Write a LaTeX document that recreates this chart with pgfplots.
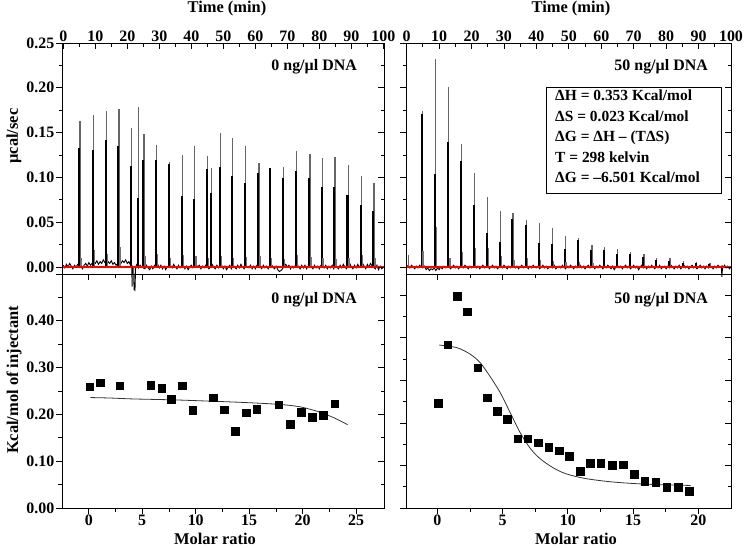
\documentclass[border=0pt]{standalone}
\usepackage{pgfplots}
\pgfplotsset{compat=1.18}
\usepackage{fontspec}
\setmainfont{Liberation Serif}

\pgfplotsset{
  itc/.style={scale only axis, anchor=north west,
    axis line style={line width=0.9pt},
    every tick/.style={line width=0.8pt, black},
    major tick length=6bp, minor tick length=3.5bp,
    tick label style={font=\fontsize{16}{17}\selectfont\bfseries, inner sep=1.5pt},
    /pgf/number format/assume math mode=true},
  topL/.style={itc, width=322bp, height=231bp, xmin=-0.4, xmax=100.2, ymin=-0.0078, ymax=0.25,
    ytick={0,0.05,0.1,0.15,0.2,0.25}, minor y tick num=1},
  topR/.style={itc, width=325bp, height=231bp, xmin=-0.2, xmax=100, ymin=-0.0078, ymax=0.25,
    ytick={0,0.05,0.1,0.15,0.2,0.25}, minor y tick num=1},
  botL/.style={itc, width=322bp, height=234bp, xmin=-2.5, xmax=27.6, ymin=0, ymax=0.5,
    xtick={0,5,10,15,20,25}, minor x tick num=1, ytick={0,0.1,0.2,0.3,0.4,0.5}, minor y tick num=1},
  botR/.style={itc, width=325bp, height=234bp, xmin=-2.4, xmax=22.5, ymin=0, ymax=0.55,
    xtick={0,5,10,15,20}, minor x tick num=1, ytick={0,0.1,0.2,0.3,0.4,0.5}, minor y tick num=1},
  inner/.style={tick align=inside, xtick pos=right, ytick pos=right, yticklabels={}},
}

\begin{document}
\begin{tikzpicture}
\path[use as bounding box] (0,0) rectangle (745bp,-548bp);

% ---------------- top left ----------------
\begin{axis}[topL, at={(62bp,-43bp)}, xtick=\empty, ytick pos=left, tick align=outside,
  yticklabels={0.00,0.05,0.10,0.15,0.20,0.25}, clip=false]
\addplot[black, line width=0.9pt] coordinates {
(0.0,0.002)(0.5,-0.001)(1.0,0.003)(1.5,0.000)(2.0,0.004)(2.5,0.001)(3.0,-0.002)(3.5,0.002)(4.0,0.000)(4.5,0.003)(5.5,0.001)(6.0,-0.002)(6.5,0.002)(7.0,0.004)(7.5,0.001)(8.0,0.005)(8.5,0.002)(9.5,0.006)(10.0,0.004)(10.5,0.007)(11.0,0.003)(11.5,0.006)(12.0,0.004)(12.5,0.008)(13.0,0.005)(13.5,0.003)(14.0,0.006)(14.5,0.004)(15.0,0.007)(15.5,0.003)(16.0,0.005)(16.5,0.002)(17.5,0.006)(18.0,0.004)(18.5,0.007)(19.0,0.005)(19.5,0.008)(20.0,0.004)(20.5,0.006)(21.0,0.002)(21.4,0.000)(21.5,-0.022)(21.6,0.001)(22.0,0.000)(22.1,-0.025)(22.4,-0.026)(22.6,0.000)(23.0,0.003)(23.5,-0.001)(24.0,0.002)(24.5,0.000)(25.5,-0.002)(26.0,0.002)(26.5,-0.001)(27.0,-0.003)(27.5,0.001)(28.0,-0.002)(28.5,0.002)(29.5,0.003)(30.0,-0.001)(30.5,0.002)(31.0,-0.002)(31.5,0.001)(32.0,-0.003)(32.5,0.000)(33.5,0.002)(34.0,-0.001)(34.5,0.003)(35.0,0.000)(35.5,-0.002)(36.0,0.002)(36.5,-0.001)(37.5,0.002)(38.0,-0.002)(38.5,0.001)(39.0,-0.003)(39.5,0.000)(40.0,0.002)(40.5,-0.001)(41.5,0.003)(42.0,0.000)(42.5,0.002)(43.0,-0.002)(43.5,0.001)(44.0,-0.001)(44.5,0.002)(45.5,-0.002)(46.5,0.003)(47.0,0.000)(47.5,-0.002)(48.0,0.002)(48.5,-0.001)(49.5,0.002)(50.0,-0.002)(50.5,0.001)(51.0,-0.003)(51.5,0.000)(52.0,0.002)(52.5,-0.002)(53.0,0.003)(53.5,0.000)(54.0,-0.002)(54.5,0.002)(55.0,-0.001)(55.5,0.003)(56.0,0.000)(56.5,-0.002)(57.0,0.003)(57.5,0.000)(58.0,-0.001)(58.5,0.002)(59.0,-0.002)(59.5,0.001)(60.0,-0.002)(60.5,0.002)(61.0,0.004)(61.5,0.000)(62.0,-0.002)(62.5,0.002)(63.0,-0.001)(63.5,0.001)(64.0,-0.002)(64.5,0.002)(65.0,0.003)(65.5,0.000)(66.0,-0.002)(66.5,0.001)(67.0,-0.003)(67.5,-0.005)(68.0,-0.004)(68.5,-0.002)(69.0,0.001)(69.5,0.003)(70.0,0.000)(70.5,0.002)(71.0,-0.002)(71.5,0.001)(72.0,-0.001)(72.5,0.002)(73.0,0.004)(73.5,0.000)(74.0,-0.002)(74.5,0.002)(75.0,-0.001)(75.5,0.002)(76.0,-0.002)(76.5,0.001)(77.0,0.004)(77.5,0.000)(78.0,-0.002)(78.5,0.002)(79.0,-0.001)(79.5,0.001)(80.0,-0.002)(80.5,0.002)(81.0,0.003)(81.5,-0.001)(82.0,0.002)(82.5,-0.002)(83.0,0.001)(83.5,-0.001)(84.0,0.002)(84.5,-0.002)(85.0,0.003)(85.5,0.000)(86.0,-0.002)(86.5,0.002)(87.0,-0.001)(87.5,0.003)(88.0,0.000)(88.5,-0.002)(89.0,0.002)(89.5,0.004)(90.0,0.000)(90.5,-0.002)(91.0,0.002)(91.5,-0.001)(92.0,0.003)(92.5,0.000)(93.5,0.004)(94.0,0.001)(94.5,-0.002)(95.0,0.003)(95.5,0.000)(96.0,0.004)(96.5,0.001)(97.5,-0.002)(98.0,0.002)(98.5,-0.003)(99.0,0.001)(99.5,-0.002)(100.0,0.000)};
\addplot[ycomb, draw=black!60, line width=1.3pt, no markers] coordinates {
(5.2,0.163)(9.4,0.170)(13.5,0.174)(17.4,0.176)(21.4,0.155)(23.6,0.179)(25.2,0.148)(29.2,0.136)(33.2,0.117)(37.2,0.125)(41.1,0.135)(45.0,0.124)(46.4,0.111)(49.2,0.150)(52.9,0.144)(57.0,0.135)(61.1,0.116)(64.8,0.110)(68.8,0.112)(72.9,0.129)(77.1,0.126)(80.9,0.122)(84.9,0.123)(89.0,0.114)(93.2,0.102)(97.1,0.094)};
\addplot[ycomb, draw=black, line width=2.1pt, no markers] coordinates {
(5.0,0.133)(9.2,0.131)(13.3,0.142)(17.2,0.135)(21.2,0.113)(23.4,0.077)(25.0,0.119)(29.0,0.119)(33.0,0.115)(37.0,0.079)(40.9,0.076)(44.8,0.109)(46.2,0.083)(49.0,0.112)(52.7,0.102)(56.8,0.094)(60.9,0.105)(64.6,0.110)(68.6,0.099)(72.7,0.107)(76.9,0.099)(80.7,0.089)(84.7,0.089)(88.8,0.080)(93.0,0.069)(96.9,0.062)};
\addplot[ycomb, draw=black!55, line width=1.5pt, no markers] coordinates {
(5.5,0.010)(9.7,0.019)(13.8,0.015)(17.7,0.022)(25.5,0.012)(29.5,0.015)(33.5,0.010)(37.5,0.013)(41.4,0.012)(45.3,0.010)(49.5,0.012)(53.2,0.010)(57.3,0.011)(61.4,0.012)(65.1,0.010)(69.1,0.009)(73.2,0.013)(77.4,0.011)(81.2,0.010)(85.2,0.009)(89.3,0.010)(93.5,0.013)(97.4,0.010)};
\addplot[red, line width=1.1pt] coordinates {(-0.4,0) (100.2,0)};
\end{axis}
\begin{axis}[topL, at={(62bp,-43bp)}, inner, xtick={0,10,20,30,40,50,60,70,80,90,100},
  xticklabels={0,10,20,30,40,50,60,70,80,90,100}, minor x tick num=1, xticklabel pos=right]
\end{axis}

% ---------------- top right ----------------
\begin{axis}[topR, at={(406bp,-43bp)}, xtick=\empty, ytick pos=left, tick align=outside,
  yticklabels={}, clip=false]
\addplot[black, line width=0.9pt] coordinates {
(0.0,0.000)(0.5,0.002)(1.0,-0.001)(1.5,0.002)(2.0,0.000)(2.5,-0.002)(3.0,0.001)(3.5,-0.001)(4.0,0.002)(4.5,0.000)(5.0,-0.001)(5.5,0.001)(6.0,-0.003)(6.5,-0.001)(7.0,-0.004)(7.5,-0.002)(8.0,-0.003)(8.5,-0.001)(9.0,-0.004)(9.5,-0.001)(10.0,-0.003)(10.5,0.000)(11.0,-0.002)(11.5,0.001)(12.0,-0.001)(12.5,0.000)(13.0,0.001)(13.5,-0.002)(14.0,0.000)(14.5,0.002)(15.0,-0.001)(15.5,0.001)(16.0,-0.002)(16.5,0.000)(17.0,0.001)(17.5,-0.001)(18.0,0.002)(18.5,0.000)(19.0,-0.002)(19.5,0.001)(20.0,-0.001)(20.5,0.000)(21.0,0.002)(21.5,-0.001)(22.0,0.001)(22.5,-0.002)(23.0,0.000)(23.5,0.002)(24.0,-0.001)(24.5,0.000)(25.0,0.001)(25.5,-0.002)(26.0,0.000)(26.5,0.002)(27.0,-0.001)(27.5,0.001)(28.0,-0.002)(28.5,0.000)(29.0,0.001)(29.5,-0.001)(30.0,0.002)(30.5,0.000)(31.0,-0.002)(31.5,0.001)(32.0,-0.001)(32.5,0.000)(33.0,0.002)(33.5,-0.001)(34.0,0.001)(34.5,-0.002)(35.0,0.000)(35.5,0.002)(36.0,-0.001)(36.5,0.000)(37.0,0.001)(37.5,-0.002)(38.0,0.001)(38.5,-0.001)(39.0,0.002)(39.5,0.000)(40.0,-0.001)(40.5,0.001)(41.0,-0.002)(41.5,0.000)(42.0,0.002)(42.5,-0.001)(43.0,0.001)(43.5,-0.002)(44.0,0.000)(44.5,0.001)(45.0,-0.001)(45.5,0.002)(46.0,-0.002)(46.5,0.000)(47.0,0.001)(47.5,-0.001)(48.0,0.002)(48.5,0.000)(49.0,-0.002)(49.5,0.001)(50.0,-0.001)(50.5,0.002)(51.0,0.000)(51.5,-0.002)(52.0,0.001)(52.5,-0.001)(53.0,0.000)(53.5,0.002)(54.0,-0.001)(54.5,0.001)(55.0,-0.002)(55.5,0.000)(56.0,0.002)(56.5,-0.001)(57.0,0.000)(57.5,0.001)(58.0,-0.002)(58.5,0.001)(59.0,-0.001)(59.5,0.002)(60.0,0.000)(60.5,-0.002)(61.0,0.001)(61.5,-0.001)(62.0,0.002)(62.5,0.000)(63.0,-0.002)(63.5,0.001)(64.0,-0.003)(64.5,0.000)(65.0,0.002)(65.5,-0.001)(66.0,0.001)(66.5,-0.002)(67.0,0.000)(67.5,0.002)(68.0,-0.001)(68.5,0.001)(69.0,-0.002)(69.5,0.000)(70.0,0.002)(70.5,-0.001)(71.0,0.001)(71.5,-0.003)(72.0,0.000)(72.5,0.002)(73.0,-0.001)(73.5,0.001)(74.0,-0.002)(74.5,0.001)(75.0,-0.001)(75.5,0.002)(76.0,0.000)(76.5,-0.002)(77.0,0.001)(77.5,-0.001)(78.0,0.002)(78.5,-0.002)(79.0,0.000)(79.5,0.001)(80.0,-0.002)(80.5,0.001)(81.0,-0.001)(81.5,0.002)(82.0,0.000)(82.5,-0.002)(83.0,0.001)(83.5,-0.001)(84.0,0.002)(84.5,-0.002)(85.0,0.000)(85.5,0.002)(86.0,-0.001)(86.5,0.001)(87.0,-0.002)(87.5,0.000)(88.0,0.002)(88.5,-0.001)(89.0,0.001)(89.5,-0.002)(90.0,0.000)(90.5,0.002)(91.0,-0.001)(91.5,0.001)(92.0,-0.002)(92.5,0.001)(93.0,-0.001)(93.5,0.002)(94.0,0.000)(94.5,-0.002)(95.0,0.001)(95.5,-0.001)(96.0,0.002)(96.5,0.000)(97.0,0.001)(97.2,-0.011)(97.4,0.000)(97.5,-0.001)(98.0,0.002)(98.5,-0.001)(99.0,0.001)(99.5,-0.002)(100.0,0.000)};
\addplot[ycomb, draw=black!60, line width=1.3pt, no markers] coordinates {
(0.5,0.013)(4.8,0.174)(8.9,0.232)(13.0,0.201)(16.9,0.137)(21.0,0.105)(25.0,0.078)(28.9,0.062)(32.8,0.060)(36.9,0.053)(41.0,0.049)(45.0,0.043)(48.9,0.035)(53.0,0.032)(57.1,0.025)(61.0,0.022)(65.1,0.020)(69.1,0.017)(73.2,0.014)(77.1,0.010)(81.2,0.010)(85.3,0.007)(89.4,0.006)(93.5,0.005)};
\addplot[ycomb, draw=black, line width=2.1pt, no markers] coordinates {
(4.6,0.171)(8.7,0.104)(12.8,0.139)(16.7,0.118)(20.8,0.069)(24.8,0.038)(28.7,0.028)(32.6,0.054)(36.7,0.047)(40.8,0.027)(44.8,0.026)(48.7,0.020)(52.8,0.030)(56.9,0.019)(60.8,0.019)(64.9,0.015)(68.9,0.015)(73.0,0.011)(76.9,0.008)(81.0,0.007)(85.1,0.005)(89.2,0.004)(93.3,0.003)};
\addplot[ycomb, draw=black!55, line width=1.5pt, no markers] coordinates {
(5.1,0.018)(9.2,0.045)(13.3,0.010)(17.2,0.017)(21.3,0.021)(25.3,0.021)(29.2,0.012)(33.1,0.008)(37.2,0.010)(41.3,0.008)(45.3,0.007)(49.2,0.006)(53.3,0.006)(57.4,0.005)};
\addplot[red, line width=1.1pt] coordinates {(-0.2,0) (100,0)};
\end{axis}
\begin{axis}[topR, at={(406bp,-43bp)}, inner, xtick={0,10,20,30,40,50,60,70,80,90,100},
  xticklabels={0,10,20,30,40,50,60,70,80,90,100}, minor x tick num=1, xticklabel pos=right]
\end{axis}

% ---------------- bottom left ----------------
\begin{axis}[botL, at={(62bp,-274bp)}, xtick pos=left, ytick pos=left, tick align=outside,
  xticklabels={0,5,10,15,20,25}, yticklabels={0.00,0.10,0.20,0.30,0.40,{}},
  xticklabel style={inner sep=0.5pt}]
\addplot[black!80, line width=0.8pt, smooth] coordinates {
(0.15,0.236)(2,0.235)(4.2,0.233)(8,0.231)(11.7,0.228)(14,0.226)(16.7,0.223)(18.5,0.220)(19.8,0.216)(21,0.209)(21.7,0.204)(23,0.192)(24.2,0.178)};
\addplot[only marks, mark=square*, mark size=3.8pt, black] coordinates {
(0.09,0.259)(1.09,0.268)(2.9,0.261)(5.8,0.263)(6.8,0.256)(7.7,0.233)(8.75,0.261)(9.7,0.209)(11.65,0.236)(12.65,0.210)(13.7,0.164)(14.7,0.204)(15.7,0.211)(17.75,0.221)(18.85,0.179)(19.85,0.205)(20.9,0.194)(21.9,0.198)(23.0,0.223)};
\end{axis}
\begin{axis}[botL, at={(62bp,-274bp)}, inner, xticklabels={}]
\end{axis}

% ---------------- bottom right ----------------
\begin{axis}[botR, at={(406bp,-274bp)}, xtick pos=left, ytick pos=left, tick align=outside,
  xticklabels={0,5,10,15,20}, yticklabels={}, xticklabel style={inner sep=0.5pt}]
\addplot[black!80, line width=0.8pt, smooth] coordinates {
(0.15,0.383)(1.48,0.377)(2.5,0.362)(3.27,0.342)(4.0,0.311)(4.8,0.272)(5.57,0.225)(6.33,0.178)(7.1,0.141)(7.87,0.116)(8.9,0.094)(9.9,0.080)(11.4,0.069)(13.5,0.061)(16.0,0.056)(19.4,0.053)};
\addplot[only marks, mark=square*, mark size=3.8pt, black] coordinates {
(0.08,0.247)(0.79,0.384)(1.53,0.498)(2.3,0.461)(3.09,0.330)(3.83,0.259)(4.6,0.227)(5.36,0.209)(6.16,0.163)(6.92,0.163)(7.74,0.153)(8.53,0.143)(9.32,0.135)(10.09,0.122)(10.93,0.087)(11.72,0.105)(12.52,0.105)(13.41,0.100)(14.23,0.102)(15.07,0.080)(15.89,0.063)(16.73,0.061)(17.57,0.049)(18.47,0.049)(19.31,0.039)};
\end{axis}
\begin{axis}[botR, at={(406bp,-274bp)}, inner, xticklabels={}]
\end{axis}

% ---------------- texts ----------------
\begin{scope}[every node/.style={font=\fontsize{16.5}{18}\selectfont\bfseries, inner sep=0pt}]
\node at (227bp,-9bp) {Time (min)};
\node at (571bp,-9bp) {Time (min)};
\node[rotate=90] at (14bp,-136bp) {µcal/sec};
\node[rotate=90] at (14bp,-380bp) {Kcal/mol of injectant};
\node[anchor=base] at (215bp,-544bp) {Molar ratio};
\node[anchor=base] at (576bp,-544bp) {Molar ratio};
\end{scope}
\begin{scope}[every node/.style={font=\fontsize{16}{18}\selectfont\bfseries, inner sep=0pt}]
\node[anchor=east] at (357bp,-67bp) {0 ng/µl DNA};
\node[anchor=east] at (357bp,-300bp) {0 ng/µl DNA};
\node[anchor=east] at (708bp,-67bp) {50 ng/µl DNA};
\node[anchor=east] at (708bp,-300bp) {50 ng/µl DNA};
\end{scope}
\draw[line width=0.9pt] (546bp,-87bp) rectangle (721bp,-193bp);
\node[anchor=north west, align=left, inner sep=0pt, font=\fontsize{15.5}{20.5}\selectfont\bfseries] at (555bp,-90bp)
{ΔH = 0.353 Kcal/mol\\ΔS = 0.023 Kcal/mol\\ΔG = ΔH – (TΔS)\\T = 298 kelvin\\ΔG = –6.501 Kcal/mol};
\end{tikzpicture}
\end{document}
